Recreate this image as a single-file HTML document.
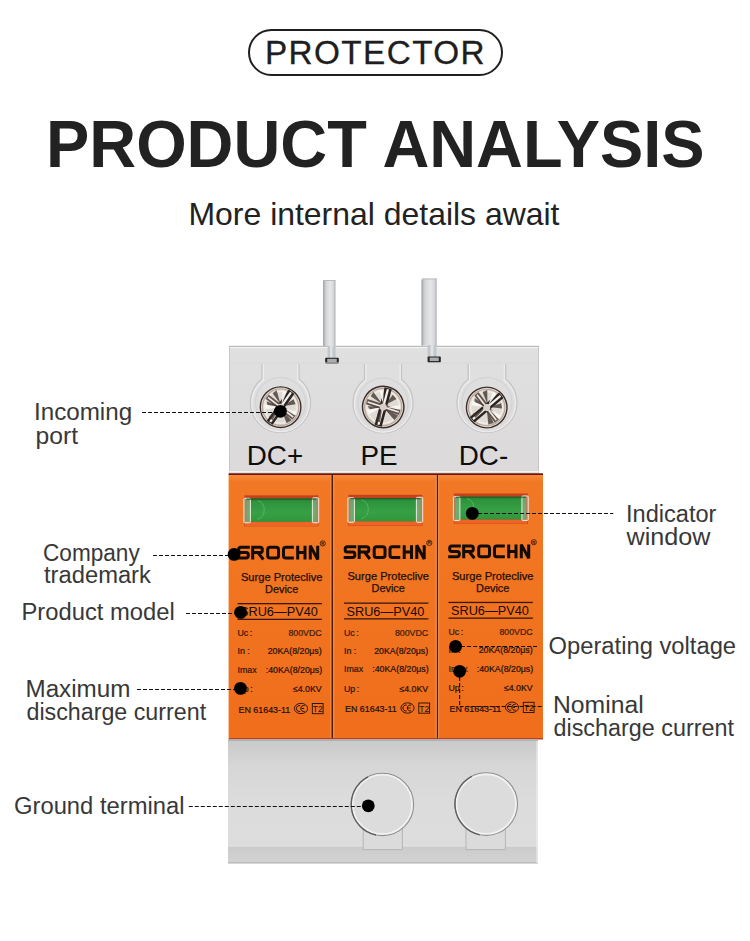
<!DOCTYPE html>
<html><head><meta charset="utf-8">
<style>
html,body{margin:0;padding:0;background:#fff;width:750px;height:941px;overflow:hidden}
svg{display:block}
text{font-family:"Liberation Sans",sans-serif}
</style></head>
<body>
<svg width="750" height="941" viewBox="0 0 750 941">
<defs>
  <linearGradient id="gTop" x1="0" y1="0" x2="0" y2="1">
    <stop offset="0" stop-color="#e1e0e1"/>
    <stop offset="0.15" stop-color="#e0dfe0"/>
    <stop offset="1" stop-color="#dbd9da"/>
  </linearGradient>
  <linearGradient id="gBot" x1="0" y1="0" x2="0" y2="1">
    <stop offset="0" stop-color="#c9c9ca"/>
    <stop offset="0.2" stop-color="#d6d6d7"/>
    <stop offset="0.5" stop-color="#dcdcdc"/>
    <stop offset="1" stop-color="#dddddd"/>
  </linearGradient>
  <linearGradient id="gBand" x1="0" y1="0" x2="0" y2="1">
    <stop offset="0" stop-color="#cbcbcb"/>
    <stop offset="1" stop-color="#d3d3d3"/>
  </linearGradient>
  <linearGradient id="gOr" x1="0" y1="0" x2="0" y2="1">
    <stop offset="0" stop-color="#f78a3a"/>
    <stop offset="0.025" stop-color="#f27826"/>
    <stop offset="0.5" stop-color="#f1731f"/>
    <stop offset="1" stop-color="#f06e1c"/>
  </linearGradient>
  <linearGradient id="gGreen" x1="0" y1="0" x2="0" y2="1">
    <stop offset="0" stop-color="#237a31"/>
    <stop offset="0.15" stop-color="#2e943d"/>
    <stop offset="0.6" stop-color="#37a045"/>
    <stop offset="1" stop-color="#2f963c"/>
  </linearGradient>
  <linearGradient id="gPin" x1="0" y1="0" x2="1" y2="0">
    <stop offset="0" stop-color="#b5b8bc"/>
    <stop offset="0.3" stop-color="#d8dadc"/>
    <stop offset="0.6" stop-color="#e4e6e8"/>
    <stop offset="1" stop-color="#c9cbce"/>
  </linearGradient>
  <g id="screw">
    <circle r="21.3" fill="#f0ede9"/>
    <circle r="20.3" fill="#e0dad4" stroke="#3a2e2a" stroke-width="1.4"/>
    <circle r="18.2" fill="none" stroke="#b8a397" stroke-width="1.1"/>
    <circle r="16" fill="none" stroke="#efebe6" stroke-width="1.5"/>
    <g transform="rotate(-55)">
      <rect x="-19" y="-3.6" width="38" height="7.2" fill="#2c2420"/>
      <rect x="-18" y="-1.1" width="36" height="2.2" fill="#f6f2ee"/>
    </g>
    <g transform="rotate(38)">
      <rect x="-17" y="-2.6" width="34" height="5.2" fill="#4a3c34" opacity="0.85"/>
      <rect x="-16" y="-0.8" width="32" height="1.6" fill="#f2ede8"/>
    </g>
    <path d="M-14 -6 L-2 -1 L-13 -2Z M13 -8 L2 -1 L15 -3Z M-12 10 L-2 2 L-8 13Z M6 16 L1 3 L11 13Z M-4 -17 L0 -3 L-8 -14Z" fill="#3a2e28" opacity="0.75"/>
    <path d="M-16 -3 L-3 0 L-15 2Z M16 4 L3 1 L14 8Z M2 -17 L1 -3 L6 -15Z" fill="#fbf8f4" opacity="0.9"/>
    <circle r="3.5" fill="#d8cfc6"/>
  </g>
  <g id="win">
    <rect x="0" y="0" width="74" height="31" fill="#c4421a"/>
    <rect x="0.6" y="26.5" width="72.8" height="4.2" fill="#ec6526"/>
    <rect x="2" y="3.2" width="70" height="23.3" fill="url(#gGreen)"/>
    <path d="M13 5 A10 10 0 0 1 13 24" fill="none" stroke="#7cc28a" stroke-width="0.8" opacity="0.7"/>
    <rect x="-0.5" y="3" width="6.5" height="24.5" rx="1" fill="#9fb896" fill-opacity="0.55" stroke="#f0e8e0" stroke-width="1"/>
    <rect x="68" y="2.5" width="6.3" height="25" rx="1" fill="#9fb896" fill-opacity="0.55" stroke="#f0e8e0" stroke-width="1"/>
    <rect x="2" y="3.2" width="70" height="1.2" fill="#1b5a26" opacity="0.8"/>
  </g>
  <g id="mod">
    <g fill="none" stroke="#120b06" stroke-width="3" stroke-linejoin="miter" stroke-miterlimit="2">
      <path d="M249.8 547.3 H240.9 Q238.7 547.3 238.7 549.5 V550.5 Q238.7 552.6 240.9 552.6 H246.1 Q248.3 552.6 248.3 554.8 V555.8 Q248.3 558 246.1 558 H237.2"/>
      <path d="M252.7 559.5 V547.3 H260.1 Q262.3 547.3 262.3 549.5 V550.4 Q262.3 552.6 260.1 552.6 H254 M257.8 552.4 L263.4 559.5"/>
      <path d="M270 547.3 H276.2 Q278.5 547.3 278.5 549.6 V555.7 Q278.5 558 276.2 558 H270 Q267.7 558 267.7 555.7 V549.6 Q267.7 547.3 270 547.3 Z"/>
      <path d="M293.8 547.3 H285.8 Q283.5 547.3 283.5 549.6 V555.7 Q283.5 558 285.8 558 H293.8"/>
      <path d="M297.7 545.8 V559.5 M305 545.8 V559.5 M297.7 552.6 H305"/>
      <path d="M310.3 559.5 V545.8 L317.7 559.5 V545.8"/>
    </g>
    <circle cx="322.8" cy="543.4" r="2.6" fill="none" stroke="#1a0f08" stroke-width="0.75"/><text x="322.8" y="544.9" font-size="4" font-weight="bold" text-anchor="middle" fill="#1a0f08">R</text>
    <text x="281.7" y="580.8" font-size="10.9" text-anchor="middle" fill="#241005" stroke="#241005" stroke-width="0.25" textLength="81.5" lengthAdjust="spacingAndGlyphs">Surge Proteclive</text>
    <text x="281.7" y="592.9" font-size="10.9" text-anchor="middle" fill="#241005" stroke="#241005" stroke-width="0.25">Device</text>
    <rect x="237.5" y="603" width="84.4" height="1.3" fill="#3a1808"/>
    <rect x="237.5" y="618.7" width="84.4" height="1.3" fill="#3a1808"/>
    <text x="240" y="616" font-size="13" fill="#140a04" textLength="77.8" lengthAdjust="spacingAndGlyphs">SRU6—PV40</text>
    <g font-size="8.8" stroke-width="0.22" stroke="#2a1208">
    <text x="237.5" y="636" fill="#3d1c0a">Uc<tspan dx="1.5">:</tspan></text>
    <text x="321.7" y="636" text-anchor="end" fill="#4e2810">800VDC</text>
    <text x="237.5" y="654.3" fill="#2e1508">In<tspan dx="2.5">:</tspan></text>
    <text x="321.7" y="654.3" text-anchor="end" fill="#1e0e05">20KA(8/20μs)</text>
    <text x="237.5" y="672.8" fill="#3a1a08">Imax</text>
    <text x="322.2" y="672.8" text-anchor="end" fill="#1e0e05">:40KA(8/20μs)</text>
    <text x="237.5" y="692" fill="#2e1508">Up<tspan dx="1.5">:</tspan></text>
    <text x="321.7" y="692" text-anchor="end" fill="#1e0e05">≤4.0KV</text>
    </g>
    <text x="238.6" y="712.8" font-size="9" fill="#1e0e05" stroke="#1e0e05" stroke-width="0.2" textLength="51.6" lengthAdjust="spacingAndGlyphs">EN 61643-11</text>
    <ellipse cx="301" cy="708.5" rx="6.6" ry="5.2" fill="none" stroke="#1e0e05" stroke-width="0.9"/>
    <path d="M300.2 705.6 A3 3 0 1 0 300.2 711.4 M304.6 705.6 A3 3 0 1 0 304.6 711.4 M301.6 708.5 H304" fill="none" stroke="#1e0e05" stroke-width="1"/>
    <rect x="312.3" y="703.5" width="10.8" height="10.2" fill="none" stroke="#1e0e05" stroke-width="0.9"/>
    <text x="317.7" y="712" font-size="8.5" text-anchor="middle" fill="#1e0e05">T2</text>
  </g>
</defs>


<!-- header -->
<rect x="249" y="30" width="253" height="45" rx="22.5" ry="22.5" fill="none" stroke="#1f1f1f" stroke-width="2"/>
<text x="265" y="64" font-size="33.3" letter-spacing="1.4" fill="#1e1e1e" stroke="#1e1e1e" stroke-width="0.3">PROTECTOR</text>
<text x="46" y="166.7" font-size="66.5" font-weight="bold" fill="#222" textLength="658.5" lengthAdjust="spacingAndGlyphs">PRODUCT ANALYSIS</text>
<text x="188.5" y="224.8" font-size="31.5" fill="#222" textLength="371" lengthAdjust="spacingAndGlyphs">More internal details await</text>

<!-- top grey body -->
<rect x="229" y="345.8" width="310" height="129.5" fill="url(#gTop)"/>
<rect x="229" y="345.8" width="310" height="1.2" fill="#bdbdbd"/>
<rect x="230" y="347" width="308" height="1.2" fill="#f1f1f1"/>
<rect x="229" y="345.8" width="1" height="130" fill="#c6c6c6"/>
<rect x="538" y="345.8" width="1" height="130" fill="#c6c6c6"/>
<!-- pins -->
<rect x="323.2" y="280" width="12.2" height="66" fill="url(#gPin)"/><rect x="323.2" y="280" width="1.2" height="66" fill="#a4a8ac"/><rect x="334.2" y="280" width="1.2" height="66" fill="#b9bcbf"/><rect x="323.2" y="280" width="12.2" height="1" fill="#b9bcbf"/>
<rect x="327.6" y="346" width="8" height="13" fill="#c4c7ca"/>
<rect x="330" y="346" width="2.5" height="13" fill="#dfe1e3"/>
<rect x="421.6" y="278.5" width="15" height="67" fill="url(#gPin)"/><rect x="421.6" y="280" width="1.2" height="65.5" fill="#a4a8ac"/><rect x="435.4" y="278.5" width="1.2" height="67" fill="#b9bcbf"/><rect x="422.5" y="278.5" width="14" height="1" fill="#b9bcbf"/>
<rect x="427.5" y="345" width="9" height="13" fill="#c4c7ca"/>
<rect x="430.5" y="345" width="3" height="13" fill="#dfe1e3"/>
<!-- pin slots -->
<rect x="325.2" y="357.8" width="13.6" height="6" rx="1" fill="#222"/>
<rect x="327.2" y="358.8" width="9.6" height="3.6" fill="#a9adb0"/>
<rect x="427.6" y="356.5" width="13.2" height="6" rx="1" fill="#222"/>
<rect x="429.6" y="357.5" width="9.2" height="3.6" fill="#a9adb0"/>

<!-- keyhole recess outlines -->
<rect x="230" y="362.5" width="308" height="1" fill="#d9d8d9"/>
<g fill="none" stroke="#c4c2c3" stroke-width="1.2">
  <path d="M262 364 V378.9 A30 30 0 1 0 299 378.9 V364"/>
  <path d="M364.5 364 V379.4 A30 30 0 1 0 401.5 379.4 V364"/>
  <path d="M468.2 364 V379.1 A30 30 0 1 0 505.7 379.1 V364"/>
</g>
<g fill="none" stroke="#eeedee" stroke-width="1.2">
  <path d="M263.4 364 V380.2 A28.6 28.6 0 1 0 297.6 380.2 V364"/>
  <path d="M365.9 364 V380.7 A28.6 28.6 0 1 0 400.1 380.7 V364"/>
  <path d="M469.6 364 V380.4 A28.6 28.6 0 1 0 504.3 380.4 V364"/>
</g>
<g fill="none" stroke="#d2d0d1" stroke-width="1">
  <circle cx="280.5" cy="402.5" r="25"/>
  <circle cx="383" cy="403" r="25"/>
  <circle cx="487" cy="402.5" r="25"/>
</g>

<!-- screws -->
<use href="#screw" transform="translate(280.6,407.2)"/>
<use href="#screw" transform="translate(383.2,407) rotate(-20) scale(1.02)"/>
<use href="#screw" transform="translate(486.7,407.5) rotate(15)"/>

<!-- terminal labels -->
<text x="246.8" y="465" font-size="27.8" fill="#0d0d0d">DC+</text>
<text x="360.4" y="465" font-size="27.8" fill="#0d0d0d">PE</text>
<text x="458.8" y="465" font-size="27.8" fill="#0d0d0d">DC-</text>
<rect x="229" y="471" width="310" height="1.2" fill="#f2f2ee"/>

<!-- orange modules -->
<rect x="228.6" y="473.3" width="314.4" height="2" fill="#6e1410"/>
<rect x="228.6" y="475" width="103.4" height="264.5" fill="url(#gOr)"/>
<rect x="333" y="475" width="103.5" height="264.5" fill="url(#gOr)"/>
<rect x="437.5" y="475" width="105.5" height="264" fill="url(#gOr)"/>
<rect x="331.4" y="475" width="1.7" height="264.5" fill="#4e1c0a"/><rect x="330.2" y="475" width="1.2" height="264.5" fill="#f88b3e" opacity="0.8"/>
<rect x="436.6" y="475" width="1.6" height="264.5" fill="#4e1c0a"/><rect x="435.4" y="475" width="1.2" height="264.5" fill="#f88b3e" opacity="0.8"/>
<rect x="333.1" y="475" width="1.2" height="264.5" fill="#f89a55" opacity="0.7"/>
<rect x="438" y="475" width="1.2" height="264.5" fill="#f89a55" opacity="0.7"/>
<rect x="229" y="738" width="314" height="1.5" fill="#b8401a"/>

<!-- windows -->
<use href="#win" transform="translate(244.4,495.3)"/>
<use href="#win" transform="translate(348.4,494.8)"/>
<use href="#win" transform="translate(453.9,493.5) scale(1,0.98)"/>

<!-- module text -->
<use href="#mod"/>
<use href="#mod" transform="translate(106.5,-0.5)"/>
<use href="#mod" transform="translate(211,-1.2)"/>

<!-- lower grey body -->
<rect x="228" y="739.5" width="310" height="124" fill="url(#gBot)"/>
<rect x="228" y="739.5" width="310" height="1.5" fill="#a9b3b8"/>
<rect x="228" y="846" width="310" height="17" fill="url(#gBand)"/>
<rect x="228" y="845.5" width="310" height="1" fill="#e6e6e6"/>
<rect x="228" y="862" width="310" height="1.5" fill="#bdbdbd"/>
<rect x="536.5" y="741" width="1.2" height="122" fill="#efefef"/>
<!-- tabs -->
<g>
<rect x="363.2" y="826" width="39.2" height="23.6" fill="#dbdbdb"/>
<path d="M363.2 828 V849.6 H402.4 V828" fill="none" stroke="#b5b5b5" stroke-width="1"/>
<rect x="466" y="826" width="39.4" height="23.6" fill="#dbdbdb"/>
<path d="M466 828 V849.6 H505.4 V828" fill="none" stroke="#b5b5b5" stroke-width="1"/>
</g>
<circle cx="382.4" cy="804.4" r="31.2" fill="#dcdcdc" stroke="#8f8f8f" stroke-width="1.1"/>
<circle cx="382.4" cy="804.4" r="29.6" fill="none" stroke="#f2f2f2" stroke-width="1.6"/>
<path d="M368 776.8 A31.2 31.2 0 0 0 376 835" fill="none" stroke="#5e5e5e" stroke-width="1.3"/>
<circle cx="486.2" cy="804.1" r="31.3" fill="#dcdcdc" stroke="#8f8f8f" stroke-width="1.1"/>
<circle cx="486.2" cy="804.1" r="29.7" fill="none" stroke="#f2f2f2" stroke-width="1.6"/>
<path d="M471.8 776.4 A31.3 31.3 0 0 0 479.8 834.8" fill="none" stroke="#5e5e5e" stroke-width="1.3"/>
<!-- annotations -->
<g fill="none" stroke="#111" stroke-width="1.2" stroke-dasharray="4 2">
  <line x1="142" y1="412.5" x2="280" y2="412.5"/>
  <line x1="153" y1="555.5" x2="234" y2="555.5"/>
  <line x1="186" y1="613.5" x2="240" y2="613.5"/>
  <line x1="137" y1="689.5" x2="240" y2="689.5"/>
  <line x1="472" y1="513.5" x2="613.3" y2="513.5"/>
  <line x1="455" y1="646.5" x2="538" y2="646.5"/>
  <line x1="459.6" y1="671" x2="459.6" y2="706.5"/>
  <line x1="459.6" y1="706.5" x2="542" y2="706.5"/>
  <line x1="188.8" y1="806.5" x2="368" y2="806.5"/>
</g>
<g fill="#000">
  <circle cx="280.4" cy="411.3" r="6.4"/>
  <circle cx="234.1" cy="554.4" r="6.4"/>
  <circle cx="240.6" cy="612.4" r="6.4"/>
  <circle cx="240.5" cy="688.4" r="6.4"/>
  <circle cx="472.3" cy="513.4" r="6.4"/>
  <circle cx="455.6" cy="646.4" r="6.4"/>
  <circle cx="459.6" cy="671.3" r="6.4"/>
  <circle cx="368.3" cy="805.8" r="6.4"/>
</g>

<!-- labels -->
<g fill="#383838" font-size="23.3">
  <text x="34.0" y="420.2" textLength="98.1" lengthAdjust="spacingAndGlyphs">Incoming</text>
  <text x="35.6" y="443.5" textLength="42.5" lengthAdjust="spacingAndGlyphs">port</text>
  <text x="43.0" y="560.5" textLength="96.7" lengthAdjust="spacingAndGlyphs">Company</text>
  <text x="44.0" y="583.3" textLength="106.9" lengthAdjust="spacingAndGlyphs">trademark</text>
  <text x="21.5" y="620.4" textLength="153.3" lengthAdjust="spacingAndGlyphs">Product model</text>
  <text x="25.5" y="696.8" textLength="104.9" lengthAdjust="spacingAndGlyphs">Maximum</text>
  <text x="26.5" y="720.4" textLength="179.6" lengthAdjust="spacingAndGlyphs">discharge current</text>
  <text x="626.0" y="521.6" textLength="90.4" lengthAdjust="spacingAndGlyphs">Indicator</text>
  <text x="626.5" y="544.8" textLength="84.0" lengthAdjust="spacingAndGlyphs">window</text>
  <text x="548.5" y="654" textLength="187.6" lengthAdjust="spacingAndGlyphs">Operating voltage</text>
  <text x="553.0" y="712.8" textLength="90.7" lengthAdjust="spacingAndGlyphs">Nominal</text>
  <text x="553.5" y="736" textLength="180.4" lengthAdjust="spacingAndGlyphs">discharge current</text>
  <text x="14.0" y="813.8" textLength="170.5" lengthAdjust="spacingAndGlyphs">Ground terminal</text>
</g>
</svg>
</body></html>
